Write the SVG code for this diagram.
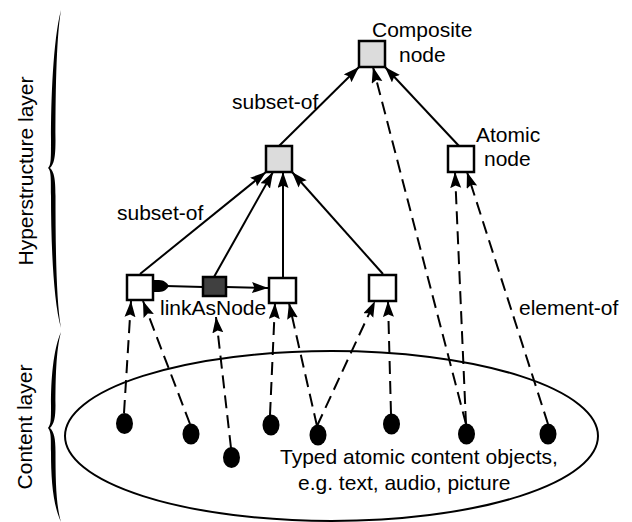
<svg xmlns="http://www.w3.org/2000/svg" width="632" height="522" viewBox="0 0 632 522">
<style>
text{font-family:"Liberation Sans",Arial,sans-serif;font-size:21px;fill:#000}
.node{stroke:#000;stroke-width:2.5}
.solid{fill:none;stroke:#000;stroke-width:2}
.dash{fill:none;stroke:#000;stroke-width:2;stroke-dasharray:13 7}
.dot{fill:#000}
</style>
<defs>
<marker id="arr" markerUnits="userSpaceOnUse" markerWidth="17" markerHeight="12" refX="16" refY="5.5" orient="auto">
<path d="M0,0 L16,5.5 L0,11 L2.5,5.5 Z" fill="#000"/>
</marker>
</defs>
<rect width="632" height="522" fill="#fff"/>
<g id="braces">
<path d="M61,10 C53,40 51,100 51,140 C51,160 51,165 48,168 C51,171 51,176 51,196 C51,240 53,300 61,328 C56,300 55.5,240 55.5,196 C55.5,178 54,172 50,168 C54,164 55.5,158 55.5,140 C55.5,100 56,40 61,10 Z" fill="#000"/>
<path d="M61,332 C53,350 51,380 51,405 C51,420 51,424 48,428 C51,432 51,436 51,452 C51,480 53,505 61,522 C56,505 55.5,480 55.5,452 C55.5,438 54,432 50,428 C54,424 55.5,418 55.5,405 C55.5,380 56,350 61,332 Z" fill="#000"/>
</g>
<g id="layer-labels">
<text transform="translate(33,171) rotate(-90)" text-anchor="middle">Hyperstructure layer</text>
<text transform="translate(32,427) rotate(-90)" text-anchor="middle">Content layer</text>
</g>
<g id="content-set">
<ellipse cx="331.5" cy="436" rx="266.5" ry="85" fill="none" stroke="#000" stroke-width="2"/>
<text x="280" y="464">Typed atomic content objects,</text>
<text x="298" y="490">e.g. text, audio, picture</text>
</g>
<g id="connectors">
<line class="solid" x1="279" y1="146" x2="359" y2="67" marker-end="url(#arr)"/>
<line class="solid" x1="459" y1="146" x2="385" y2="67" marker-end="url(#arr)"/>
<line class="solid" x1="140" y1="274" x2="266" y2="172" marker-end="url(#arr)"/>
<line class="solid" x1="214" y1="277" x2="273" y2="172" marker-end="url(#arr)"/>
<line class="solid" x1="283" y1="277" x2="283" y2="172" marker-end="url(#arr)"/>
<line class="solid" x1="383" y1="274" x2="292" y2="172" marker-end="url(#arr)"/>
<path d="M154,280 L159,280 C164,280 167,283 169,286 C167,289 164,292 159,292 L154,292 Z" fill="#000"/>
<line class="solid" x1="166" y1="286" x2="203" y2="287"/>
<line class="solid" x1="226" y1="287" x2="268" y2="288" marker-end="url(#arr)"/>
<line class="dash" x1="124" y1="413" x2="131" y2="301" marker-end="url(#arr)"/>
<line class="dash" x1="190" y1="424" x2="143" y2="301" marker-end="url(#arr)"/>
<line class="dash" x1="231" y1="448" x2="216" y2="317" marker-end="url(#arr)"/>
<line class="dash" x1="270" y1="415" x2="275" y2="303" marker-end="url(#arr)"/>
<line class="dash" x1="317" y1="426" x2="289" y2="303" marker-end="url(#arr)"/>
<line class="dash" x1="317" y1="426" x2="375" y2="301" marker-end="url(#arr)"/>
<line class="dash" x1="391" y1="414" x2="388" y2="301" marker-end="url(#arr)"/>
<line class="dash" x1="466" y1="424" x2="373" y2="67" marker-end="url(#arr)"/>
<line class="dash" x1="466" y1="424" x2="455" y2="172" marker-end="url(#arr)"/>
<line class="dash" x1="548" y1="424" x2="467" y2="172" marker-end="url(#arr)"/>
</g>
<g id="edge-labels">
<text x="232" y="109">subset-of</text>
<text x="117" y="220">subset-of</text>
<text x="160" y="315">linkAsNode</text>
<text x="519" y="315">element-of</text>
</g>
<g id="composite-node">
<rect class="node" x="359" y="41" width="26" height="26" fill="#dcdcdc"/>
<text x="372" y="37">Composite</text>
<text x="399" y="62">node</text>
</g>
<g id="atomic-node">
<rect class="node" x="448" y="146" width="26" height="26" fill="#fff"/>
<text x="476" y="142">Atomic</text>
<text x="484" y="166">node</text>
</g>
<g id="mid-composite"><rect class="node" x="266" y="146" width="26" height="26" fill="#dcdcdc"/></g>
<g id="node-a"><rect class="node" x="127" y="275" width="26" height="25" fill="#fff"/></g>
<g id="link-node"><rect class="node" x="203" y="277" width="23" height="19" fill="#404040"/></g>
<g id="node-b"><rect class="node" x="269" y="278" width="27" height="25" fill="#fff"/></g>
<g id="node-c"><rect class="node" x="369" y="275" width="27" height="26" fill="#fff"/></g>
<g id="content-objects">
<ellipse class="dot" cx="124.5" cy="423.5" rx="8.5" ry="10.5"/>
<ellipse class="dot" cx="191" cy="434" rx="8.5" ry="10.5"/>
<ellipse class="dot" cx="231.5" cy="457.5" rx="8.5" ry="10.5"/>
<ellipse class="dot" cx="271" cy="425" rx="8.5" ry="10.5"/>
<ellipse class="dot" cx="318" cy="435" rx="8.5" ry="10.5"/>
<ellipse class="dot" cx="391.5" cy="424" rx="8.5" ry="10.5"/>
<ellipse class="dot" cx="466.5" cy="434" rx="8.5" ry="10.5"/>
<ellipse class="dot" cx="548" cy="434" rx="8.5" ry="10.5"/>
</g>
</svg>
